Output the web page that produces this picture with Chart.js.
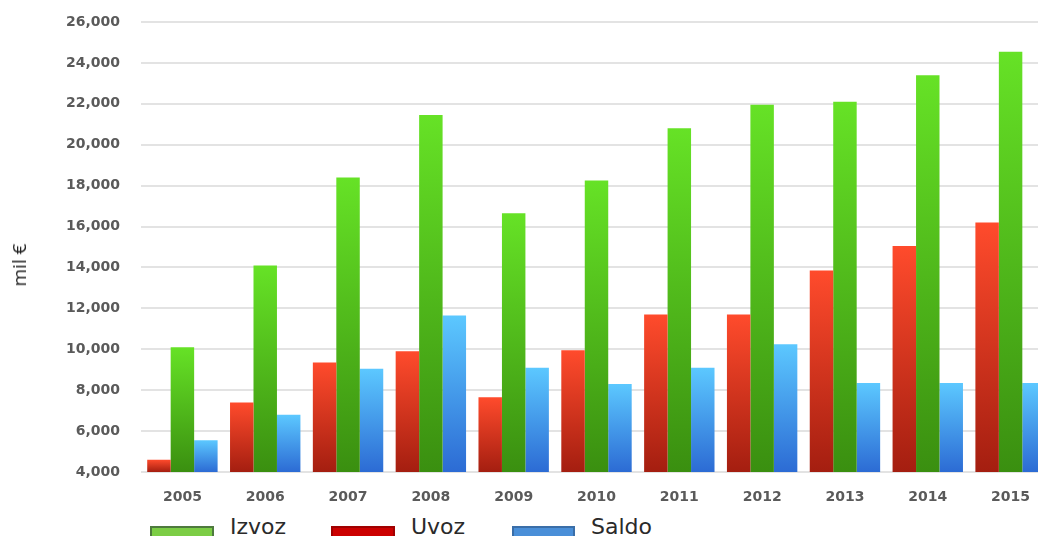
<!DOCTYPE html>
<html>
<head>
<meta charset="utf-8">
<script src="https://cdn.jsdelivr.net/npm/chart.js@4/dist/chart.umd.min.js"></script>
<style>
  html, body { margin: 0; padding: 0; background: #fff; overflow: hidden; }
  body { width: 1038px; height: 536px; position: relative; }
  #wrap { position: absolute; left: 0; top: 0; width: 1052px; height: 504px; }
  #ytitle { position: absolute; left: 19px; top: 265px; transform: translate(-50%, -50%) rotate(-90deg);
            font-family: "Open Sans", sans-serif; font-size: 19px; color: #222; white-space: nowrap; }
  #legend { position: absolute; left: 150px; top: 514px; display: flex; font-family: "DejaVu Sans", sans-serif; font-size: 22px; color: #2a2a2a; }
  .item { display: flex; align-items: flex-start; }
  .box { width: 64px; height: 22px; box-sizing: border-box; border: 2px solid; margin-right: 16px; margin-top: 12px; }
  .lbl { line-height: 26px; }
</style>
</head>
<body>
<div id="wrap"><canvas id="chart"></canvas></div>
<div id="ytitle">mil €</div>
<div id="legend"></div>
<script>
// godine i vrijednosti (mil €), očitano sa slike
const YEARS = ['2005','2006','2007','2008','2009','2010','2011','2012','2013','2014','2015'];
const IZVOZ = [10100, 14100, 18400, 21450, 16650, 18250, 20800, 21950, 22100, 23400, 24550];
const UVOZ  = [4600, 7400, 9350, 9900, 7650, 9950, 11700, 11700, 13850, 15050, 16200];
const SALDO = [5550, 6800, 9050, 11650, 9100, 8300, 9100, 10250, 8350, 8350, 8350];

const Y_MIN = 4000, Y_MAX = 26000, Y_STEP = 2000;

// [top colour, bottom colour] per series
const GRAD = {
  Izvoz: ['#66e226', '#3a8f10'],
  Uvoz:  ['#ff4b2c', '#a41e10'],
  Saldo: ['#5cc8ff', '#2c6bd4'],
};
const LEGEND = [
  { label: 'Izvoz', fill: '#7ccd45', border: '#4e7a3e' },
  { label: 'Uvoz',  fill: '#cc0000', border: '#a00000' },
  { label: 'Saldo', fill: '#4a8fd8', border: '#3a6ea8' },
];

function barGradient(name) {
  return (ctx) => {
    const chart = ctx.chart;
    const [top, bottom] = GRAD[name];
    if (!chart.chartArea || ctx.raw == null) return top;
    const ys = chart.scales.y;
    const y0 = ys.getPixelForValue(ctx.raw);
    const y1 = ys.getPixelForValue(Y_MIN);
    const g = chart.ctx.createLinearGradient(0, y0, 0, y1);
    g.addColorStop(0, top);
    g.addColorStop(1, bottom);
    return g;
  };
}

function dataset(name, values) {
  return {
    label: name,
    data: values,
    backgroundColor: barGradient(name),
    borderWidth: 0,
    barPercentage: 1,
    categoryPercentage: 0.85,
  };
}

const tickFont = { family: "'DejaVu Sans', sans-serif", size: 14, weight: 'bold' };

new Chart(document.getElementById('chart'), {
  type: 'bar',
  data: {
    labels: YEARS,
    datasets: [dataset('Uvoz', UVOZ), dataset('Izvoz', IZVOZ), dataset('Saldo', SALDO)],
  },
  options: {
    responsive: true,
    maintainAspectRatio: false,
    animation: false,
    layout: { padding: { top: 22, right: 0, bottom: 0, left: 0 } },
    plugins: { legend: { display: false }, tooltip: { enabled: false } },
    scales: {
      x: {
        grid: { display: false },
        border: { display: false },
        ticks: { color: '#5a5a5a', font: tickFont, padding: 9 },
        afterFit: s => { s.height = 32; },
      },
      y: {
        min: Y_MIN, max: Y_MAX,
        grid: { color: '#e3e3e3', lineWidth: 2, drawTicks: false },
        border: { display: false },
        ticks: {
          stepSize: Y_STEP, color: '#5a5a5a', font: tickFont, padding: 21,
          callback: v => v.toLocaleString('en-US'),
        },
        // fixed axis width; drop the label padding so layout.padding sets the top
        afterFit: s => { s.width = 141; s.paddingTop = 0; s.paddingBottom = 0; },
      },
    },
  },
});

document.getElementById('legend').innerHTML = LEGEND.map(({ label, fill, border }, i) => `
  <div class="item" style="width:${i < 2 ? 181 : 140}px">
    <div class="box" style="background:${fill};border-color:${border}"></div>
    <span class="lbl">${label}</span>
  </div>`).join('');
</script>
</body>
</html>
